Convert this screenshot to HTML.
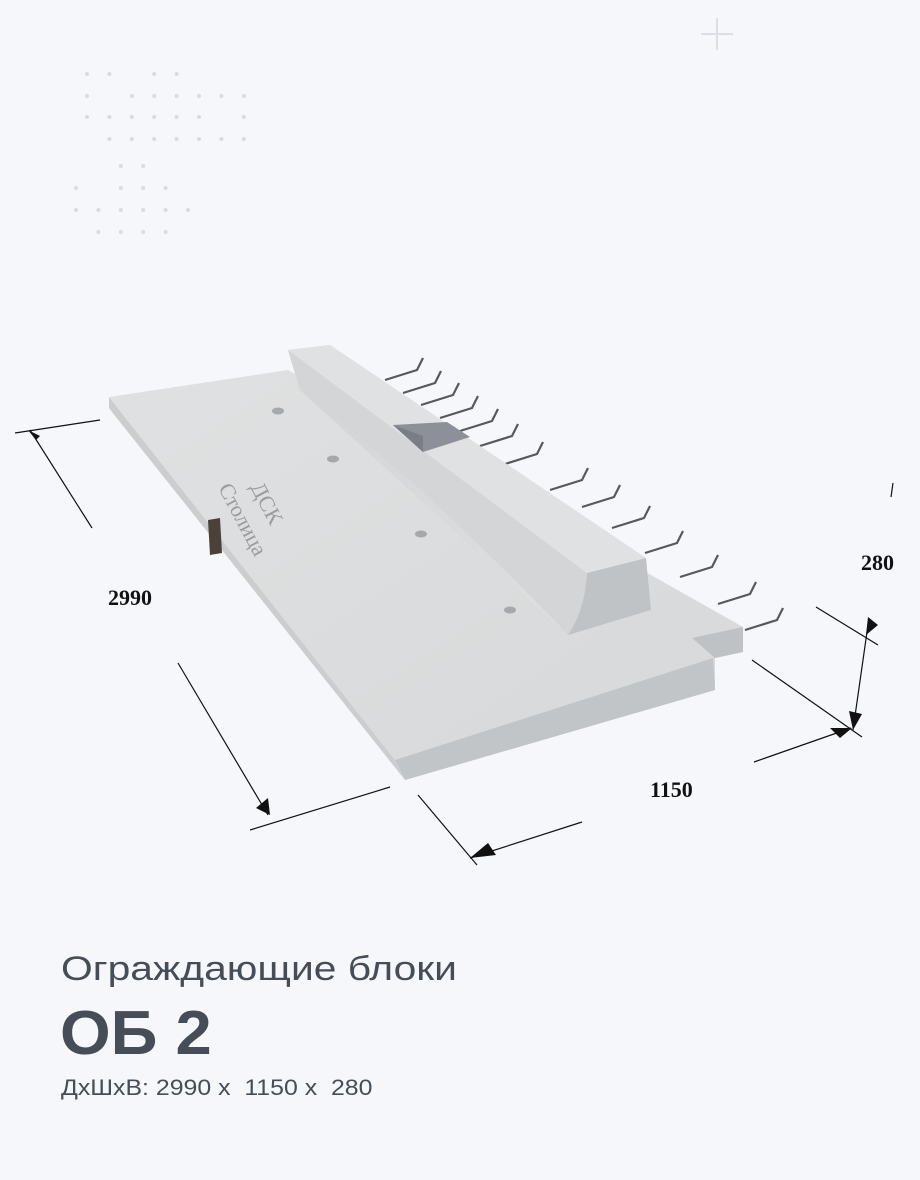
<!DOCTYPE html>
<html><head><meta charset="utf-8"><style>
html,body{margin:0;padding:0;background:#f5f7fb;}
body{width:920px;height:1180px;position:relative;overflow:hidden;font-family:"Liberation Sans","DejaVu Sans",sans-serif;}
.t1{position:absolute;left:61px;top:950px;font-size:34px;color:#474d56;font-weight:500;transform:scaleX(1.2);transform-origin:0 0;}
.t2{position:absolute;left:60px;top:998px;font-size:62px;color:#474d56;font-weight:bold;transform:scaleX(1.05);transform-origin:0 0;}
.t3{position:absolute;left:61px;top:1075px;font-size:22px;color:#474d56;transform:scaleX(1.13);transform-origin:0 0;}
</style></head><body>
<svg width="920" height="1180" style="position:absolute;left:0;top:0">
<defs>
<linearGradient id="top" x1="0" y1="0" x2="1" y2="1"><stop offset="0" stop-color="#dfe1e2"/><stop offset="1" stop-color="#d6d8d9"/></linearGradient>
<linearGradient id="curb" x1="0" y1="0" x2="1" y2="0"><stop offset="0" stop-color="#d2d4d6"/><stop offset="1" stop-color="#e0e2e3"/></linearGradient>
</defs>
<g fill="#d8dbe0" id="dots"></g>
<g stroke="#dcdfe5" stroke-width="2"><line x1="717" y1="18" x2="717" y2="50"/><line x1="701" y1="34" x2="733" y2="34"/></g>
<g stroke="#55585c" stroke-width="2.2" fill="none" id="bars"></g>
<polygon points="109,397 288,370 743,627 743,652 715,658 715,690 405,780 395,760" fill="url(#top)"/>
<polygon points="109,397 395,760 405,780 112,412 109,408" fill="#cbcdcf"/>
<polygon points="395,760 713,658 715,690 405,780" fill="#c2c5c7"/>
<polygon points="692,638 743,627 743,652 715,658" fill="#bfc2c4"/>
<polygon points="288,350 330,345 646,558 587,573 568,635 300,390" fill="url(#curb)"/>
<polygon points="587,573 646,558 651,610 568,635" fill="#c0c3c6"/>
<path d="M300,390 Q420,480 568,635 Q585,610 587,573 L288,350 Z" fill="#d3d5d7"/>
<polygon points="288,350 330,345 646,558 587,573" fill="#dfe1e2"/>
<polygon points="393,425 447,422 470,437 423,452" fill="#8d9099"/>
<polygon points="393,425 423,452 423,436" fill="#7a7d85"/>
<polygon points="208,520 220,518 222,553 210,555" fill="#4a4238"/>
<g fill="#a6a9ac"><ellipse cx="278" cy="411" rx="6" ry="3.5"/><ellipse cx="333" cy="459" rx="6" ry="3.5"/><ellipse cx="421" cy="534" rx="6" ry="3.5"/><ellipse cx="510" cy="610" rx="6" ry="3.5"/></g>
<text x="0" y="0" transform="translate(218,488) rotate(62)" font-family="Liberation Serif,serif" font-size="22" fill="#9a9c9f">Столица</text>
<text x="0" y="0" transform="translate(250,487) rotate(62)" font-family="Liberation Serif,serif" font-size="22" fill="#9a9c9f">ДСК</text>
<g stroke="#111" stroke-width="1.2" fill="none">
<line x1="15" y1="433" x2="100" y2="420"/><line x1="30" y1="430" x2="92" y2="528"/>
<line x1="178" y1="663" x2="268" y2="815"/><line x1="250" y1="830" x2="390" y2="787"/>
<line x1="418" y1="795" x2="477" y2="865"/><line x1="470" y1="858" x2="582" y2="822"/>
<line x1="752" y1="660" x2="862" y2="737"/><line x1="754" y1="762" x2="851" y2="728"/>
<line x1="816" y1="607" x2="878" y2="645"/><line x1="869" y1="618" x2="853" y2="730"/>
<line x1="893" y1="483" x2="891" y2="497"/>
</g>
<g fill="#111">
<polygon points="28,430 40,436 36,440"/>
<polygon points="270,815 256,808 268,798"/>
<polygon points="470,858 488,843 496,855"/>
<polygon points="852,728 830,728 840,738"/>
<polygon points="868,617 878,625 866,635"/>
<polygon points="853,730 849,711 862,714"/>
</g>
<g font-family="Liberation Serif,serif" font-weight="bold" font-size="22" fill="#111">
<text x="108" y="605">2990</text><text x="861" y="570">280</text><text x="650" y="797">1150</text>
</g>
</svg>
<div class="t1">Ограждающие блоки</div>
<div class="t2">ОБ 2</div>
<div class="t3">ДхШхВ: 2990 x&nbsp; 1150 x&nbsp; 280</div>
<script>
var ns="http://www.w3.org/2000/svg",d=document.getElementById("dots");
function dot(x,y){var c=document.createElementNS(ns,"circle");c.setAttribute("cx",x);c.setAttribute("cy",y);c.setAttribute("r",2);d.appendChild(c);}
var g1=[[0,1,3,4],[0,2,3,4,5,6,7],[0,1,2,3,4,5,7],[1,2,3,4,5,6,7]],y1=[74,96,117,139];
g1.forEach(function(r,i){r.forEach(function(c){dot(87+c*22.4,y1[i]);});});
var g2=[[2,3],[0,2,3,4],[0,1,2,3,4,5],[1,2,3,4]],y2=[166,188,210,232];
g2.forEach(function(r,i){r.forEach(function(c){dot(76+c*22.4,y2[i]);});});
var b=document.getElementById("bars");
var pts=[[385,380],[403,393],[421,405],[440,418],[460,431],[480,446],[505,464],[550,490],[582,507],[612,528],[645,553],[680,577],[718,604],[745,630]];
pts.forEach(function(p){var pl=document.createElementNS(ns,"polyline");var x=p[0],y=p[1];
pl.setAttribute("points",x+","+y+" "+(x+32)+","+(y-10)+" "+(x+38)+","+(y-22));b.appendChild(pl);});
</script>
</body></html>
